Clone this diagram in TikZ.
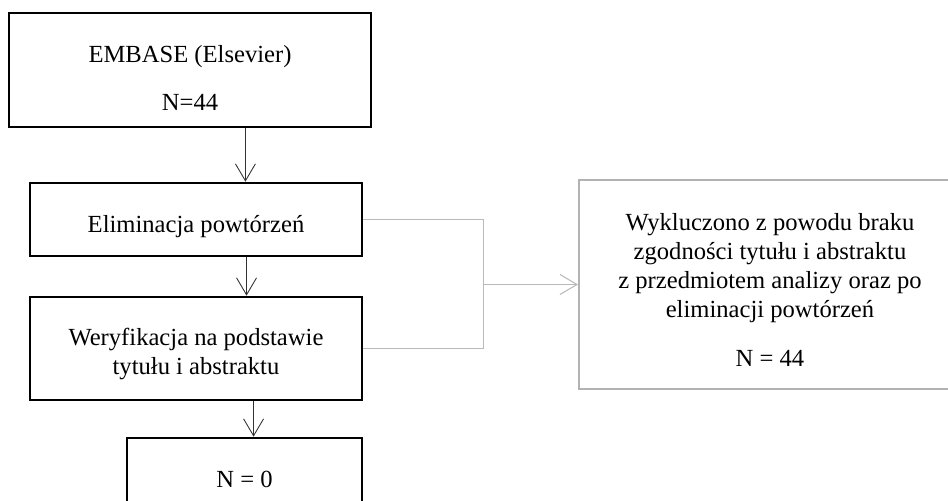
\documentclass[tikz,border=0pt]{standalone}
\usepackage{fontspec}
\setmainfont{Liberation Serif}
\usetikzlibrary{arrows.meta,calc}
\newcommand{\txtdown}[1]{\rule{0pt}{#1}}
\begin{document}
\begin{tikzpicture}[
		align=center,
		font=\fontsize{14}{16.5}\selectfont,
		box/.style={draw, line width=1.5pt, inner sep=0pt},
		exclbox/.style={draw=black!30, line width=1.1pt, inner sep=0pt},
		arr/.style={-{Straight Barb[length=0.34cm, width=0.4cm]}, line width=0.5pt, draw=black!80},
		grayline/.style={draw=black!27, line width=0.6pt},
		grayarr/.style={grayline, -{Straight Barb[length=0.34cm, width=0.4cm]}}]
		
		\clip (0,0) rectangle (18.96,-10.02);
		
		\node[box, minimum width=7.24cm, minimum height=2.28cm] (embase) at (3.8,-1.4) {\txtdown{19pt}EMBASE (Elsevier)\\[11pt] N=44};
		\node[box, minimum width=6.64cm, minimum height=1.46cm] (elim) at (3.92,-4.39) {\txtdown{18pt}Eliminacja powtórzeń};
		\node[box, minimum width=6.64cm, minimum height=2.06cm] (weryf) at (3.92,-6.97) {\txtdown{16.5pt}Weryfikacja na podstawie\\tytułu i abstraktu};
		\node[box, minimum width=4.7cm, minimum height=1.64cm] (wynik) at (4.89,-9.58) {N = 0};
		\node[exclbox, minimum width=7.64cm, minimum height=4.18cm] (wyklucz) at (15.4,-5.69)
			{\txtdown{16pt}Wykluczono z powodu braku\\zgodności tytułu i abstraktu\\z przedmiotem analizy oraz po\\eliminacji powtórzeń\\[11pt] N = 44};
		
		\coordinate (a1) at ($(embase.south west)!0.652!(embase.south east)$);
		\coordinate (a2) at ($(elim.south west)!0.651!(elim.south east)$);
		\coordinate (a3) at ($(weryf.south west)!0.672!(weryf.south east)$);
		\draw[arr] (a1) -- (a1 |- elim.north);
		\draw[arr] (a2) -- (a2 |- weryf.north);
		\draw[arr] (a3) -- (a3 |- wynik.north);
		
		\path (wyklucz.west) ++(-1.9,0) coordinate (join);
		\draw[grayline] (elim.east) -| (join) |- (weryf.east);
		\draw[grayarr] (join) -- (wyklucz.west);
		
	\end{tikzpicture}
\end{document}
